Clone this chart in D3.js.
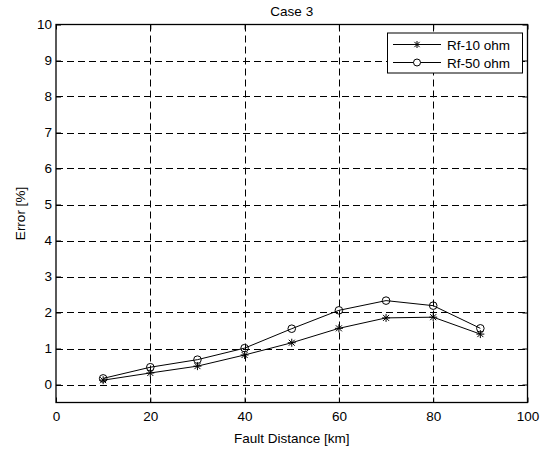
<!DOCTYPE html>
<html>
<head>
<meta charset="utf-8">
<script src="https://cdn.jsdelivr.net/npm/d3@7"></script>
<style>
html,body{margin:0;padding:0;background:#fff;}
text{font-family:"Liberation Sans",Arial,Helvetica,sans-serif;fill:#000;}
</style>
</head>
<body>
<svg id="chart" width="553" height="450"></svg>
<script>
const distances = [10, 20, 30, 40, 50, 60, 70, 80, 90];
const rf10 = [0.12, 0.32, 0.51, 0.82, 1.16, 1.56, 1.85, 1.87, 1.40];
const rf50 = [0.17, 0.48, 0.69, 1.01, 1.55, 2.06, 2.33, 2.19, 1.56];
const xTicks = [0, 20, 40, 60, 80, 100];
const yTicks = [0, 1, 2, 3, 4, 5, 6, 7, 8, 9, 10];
const seriesNames = ["Rf-10 ohm", "Rf-50 ohm"];
const title = "Case 3";
const xLabel = "Fault Distance [km]";
const yLabel = "Error [%]";

const FS = "13.5px";
const svg = d3.select("#chart");
const L = 56, R = 527.5, T = 24.5, B = 402.5;
const x = d3.scaleLinear().domain([0, 100]).range([L, R]);
const y = d3.scaleLinear().domain([-0.5, 10]).range([B, T]);

const g = svg.append("g");

// grid
g.selectAll(".vg").data(xTicks.slice(1, -1)).enter().append("line")
  .attr("x1", d => Math.round(x(d))+0.5).attr("x2", d => Math.round(x(d))+0.5).attr("y1", T).attr("y2", B)
  .attr("stroke", "#000").attr("stroke-width", 1).attr("stroke-dasharray", "7,4");
g.selectAll(".hg").data(yTicks.slice(0, -1)).enter().append("line")
  .attr("x1", L).attr("x2", R).attr("y1", d => Math.round(y(d))+0.5).attr("y2", d => Math.round(y(d))+0.5)
  .attr("stroke", "#000").attr("stroke-width", 1).attr("stroke-dasharray", "7,4");

// axes (ticks inward)
const axB = d3.axisBottom(x).tickValues(xTicks).tickSize(-5).tickPadding(9);
const axT = d3.axisTop(x).tickValues(xTicks).tickSize(-5).tickFormat("");
const axL = d3.axisLeft(y).tickValues(yTicks).tickSize(-5).tickPadding(4);
const axR = d3.axisRight(y).tickValues(yTicks).tickSize(-5).tickFormat("");
function styleAx(sel){
  sel.select(".domain").remove();
  sel.selectAll("line").attr("stroke","#000");
  sel.selectAll("text").style("font-family","'Liberation Sans',Arial,sans-serif").style("font-size",FS).attr("fill","#000");
}
svg.append("g").attr("transform",`translate(0,${B})`).call(axB).call(styleAx);
svg.append("g").attr("transform",`translate(0,${T})`).call(axT).call(styleAx);
svg.append("g").attr("transform",`translate(${L},0)`).call(axL).call(styleAx);
svg.append("g").attr("transform",`translate(${R},0)`).call(axR).call(styleAx);

svg.append("rect").attr("x",L).attr("y",T).attr("width",R-L).attr("height",B-T)
  .attr("fill","none").attr("stroke","#000").attr("stroke-width",1.3);

// lines
const line = d3.line().x((d,i)=>x(distances[i])).y(d=>y(d));
function star(sel, cx, cy, s){
  const p = sel.append("g").attr("transform",`translate(${cx},${cy})`).attr("stroke","#000").attr("stroke-width",1);
  p.append("line").attr("x1",-s).attr("x2",s).attr("y1",0).attr("y2",0);
  p.append("line").attr("x1",0).attr("x2",0).attr("y1",-s).attr("y2",s);
  const d = s*0.75;
  p.append("line").attr("x1",-d).attr("x2",d).attr("y1",-d).attr("y2",d);
  p.append("line").attr("x1",-d).attr("x2",d).attr("y1",d).attr("y2",-d);
}
svg.append("path").datum(rf10).attr("d",line).attr("fill","none").attr("stroke","#000").attr("stroke-width",1);
svg.append("path").datum(rf50).attr("d",line).attr("fill","none").attr("stroke","#000").attr("stroke-width",1);
rf10.forEach((v,i)=>star(svg, x(distances[i]), y(v), 4));
svg.selectAll(".c50").data(rf50).enter().append("circle")
  .attr("cx",(d,i)=>x(distances[i])).attr("cy",d=>y(d)).attr("r",3.8)
  .attr("fill","none").attr("stroke","#000").attr("stroke-width",1);

// legend
const lg = svg.append("g");
lg.append("rect").attr("x",387.5).attr("y",33).attr("width",135).attr("height",40)
  .attr("fill","#fff").attr("stroke","#000").attr("stroke-width",1);
const rows = [44.5, 62.5];
rows.forEach((ry,i)=>{
  lg.append("line").attr("x1",393).attr("x2",441).attr("y1",ry).attr("y2",ry).attr("stroke","#000").attr("stroke-width",1);
  if(i===0) star(lg, 417, ry, 3.5);
  else lg.append("circle").attr("cx",417).attr("cy",ry).attr("r",3.5).attr("fill","#fff").attr("stroke","#000");
  lg.append("text").attr("x",447).attr("y",ry+5).style("font-size",FS).text(seriesNames[i]);
});

// labels
svg.append("text").attr("x",(L+R)/2).attr("y",16).attr("text-anchor","middle").style("font-size",FS).text(title);
svg.append("text").attr("x",(L+R)/2).attr("y",443).attr("text-anchor","middle").style("font-size",FS).text(xLabel);
svg.append("text").attr("transform",`translate(25,${(T+B)/2}) rotate(-90)`).attr("text-anchor","middle").style("font-size",FS).text(yLabel);
</script>
</body>
</html>
